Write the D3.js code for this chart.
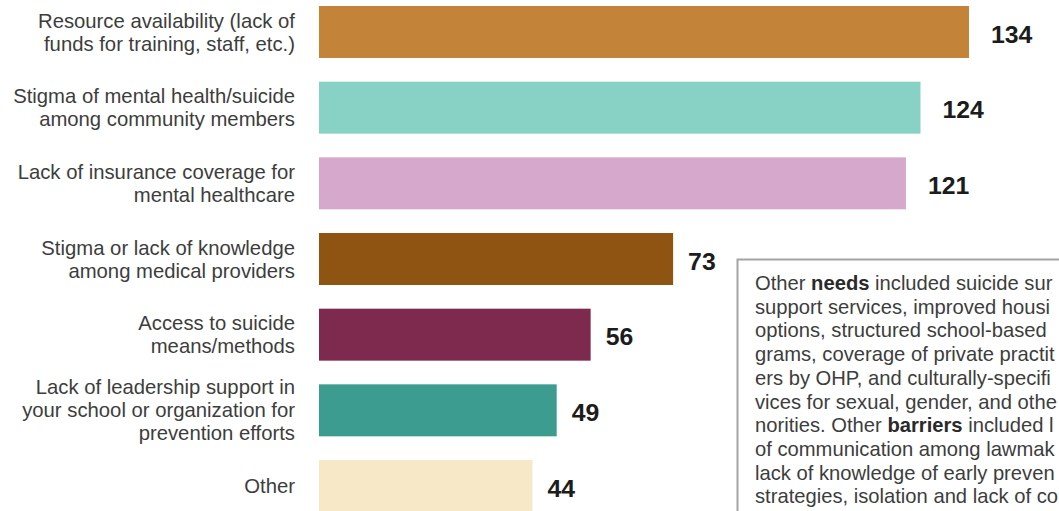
<!DOCTYPE html>
<html>
<head>
<meta charset="utf-8">
<script src="https://cdn.jsdelivr.net/npm/d3@7"></script>
<style>
  html, body { margin: 0; padding: 0; background: #fff; overflow: hidden; }
  svg { display: block; font-family: "Liberation Sans", Arial, sans-serif; }
</style>
</head>
<body>
<svg id="chart" width="1059" height="511"></svg>
<script>
// ---- data ----
const categories = [
  "Resource availability (lack of\nfunds for training, staff, etc.)",
  "Stigma of mental health/suicide\namong community members",
  "Lack of insurance coverage for\nmental healthcare",
  "Stigma or lack of knowledge\namong medical providers",
  "Access to suicide\nmeans/methods",
  "Lack of leadership support in\nyour school or organization for\nprevention efforts",
  "Other"
];
const values = [134, 124, 121, 73, 56, 49, 44];
const colors = ["#C3843A", "#87D2C4", "#D6A9CC", "#8F5312", "#7E2A4F", "#3B9C8F", "#F7E9C8"];

const noteLines = [
  [["Other ", false], ["needs", true], [" included suicide sur", false]],
  [["support services, improved housi", false]],
  [["options, structured school-based", false]],
  [["grams, coverage of private practit", false]],
  [["ers by OHP, and culturally-specifi", false]],
  [["vices for sexual, gender, and othe", false]],
  [["norities. Other ", false], ["barriers", true], [" included l", false]],
  [["of communication among lawmak", false]],
  [["lack of knowledge of early preven", false]],
  [["strategies, isolation and lack of co", false]]
];

// ---- chart ----
const svg = d3.select("#chart");
const x = d3.scaleLinear().domain([0, 134]).range([319, 969]);
const y = d3.scaleBand().domain(categories).range([6, 512]).paddingInner(0.313).paddingOuter(0);

const rows = categories.map((c, i) => ({ c, v: values[i], col: colors[i] }));

svg.append("g").selectAll("rect").data(rows).join("rect")
  .attr("x", x(0))
  .attr("y", d => y(d.c))
  .attr("width", d => x(d.v) - x(0))
  .attr("height", y.bandwidth())
  .attr("fill", d => d.col);

// category labels
const lineH = 23;
const lab = svg.append("g").selectAll("text").data(rows).join("text")
  .attr("text-anchor", "end")
  .attr("font-size", "20.3px")
  .attr("fill", "#3d3d3d");
lab.each(function(d) {
  const lines = d.c.split("\n");
  const cy = y(d.c) + y.bandwidth() / 2;
  const y0 = cy - (lines.length - 1) * lineH / 2;
  d3.select(this).selectAll("tspan").data(lines).join("tspan")
    .attr("x", 295)
    .attr("y", (l, j) => y0 + j * lineH)
    .attr("dy", "0.35em")
    .text(l => l);
});

// value labels
svg.append("g").selectAll("text").data(rows).join("text")
  .attr("x", d => x(d.v) + (String(d.v).length > 2 ? 22 : 15))
  .attr("y", d => y(d.c) + y.bandwidth() / 2 + 2)
  .attr("dy", "0.35em")
  .attr("font-size", "24.8px")
  .attr("font-weight", "bold")
  .attr("fill", "#1c1c1c")
  .text(d => d.v);

// note box
svg.append("rect")
  .attr("x", 737.5).attr("y", 259.5)
  .attr("width", 400).attr("height", 300)
  .attr("fill", "#fff")
  .attr("stroke", "#a3a3a3")
  .attr("stroke-width", 2);

const note = svg.append("g");
noteLines.forEach((parts, i) => {
  const t = note.append("text")
    .attr("x", 755)
    .attr("y", 290 + i * 23.7)
    .attr("font-size", "20.2px")
    .attr("fill", "#3d3d3d");
  parts.forEach(([s, b]) => {
    t.append("tspan")
      .attr("font-weight", b ? "bold" : null)
      .attr("fill", b ? "#2a2a2a" : null)
      .text(s);
  });
});
</script>
</body>
</html>
